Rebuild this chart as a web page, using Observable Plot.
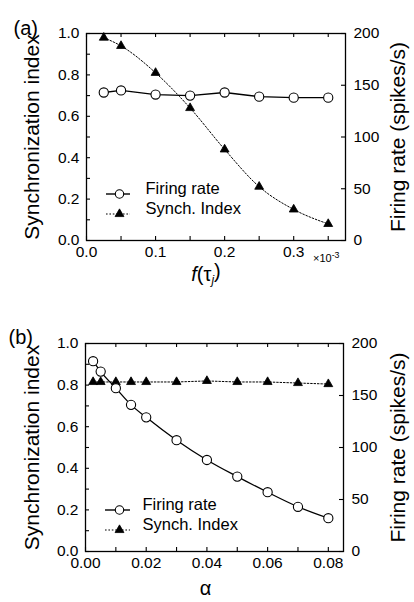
<!DOCTYPE html>
<html><head><meta charset="utf-8">
<script src="https://cdn.jsdelivr.net/npm/d3@7"></script>
<script src="https://cdn.jsdelivr.net/npm/@observablehq/plot@0.6"></script>
<style>body{margin:0;background:#fff;} svg{display:block}</style>
</head><body><div id="chart"></div>
<script>
// ---- Panel (a): f(tau_j) in units of 1e-3
const tauValues = [0.025, 0.05, 0.1, 0.15, 0.2, 0.25, 0.3, 0.35];
const rateA = [143, 145, 141, 140, 143, 139, 138, 138];          // spikes/s
const syncA = [0.98, 0.94, 0.81, 0.64, 0.44, 0.26, 0.15, 0.08];
// ---- Panel (b): alpha
const alphaValues = [0.0025, 0.005, 0.01, 0.015, 0.02, 0.03, 0.04, 0.05, 0.06, 0.07, 0.08];
const rateB = [183, 173, 157, 141, 129, 107, 88, 72, 57, 43, 32];
const syncB = [0.815, 0.815, 0.815, 0.815, 0.815, 0.815, 0.82, 0.815, 0.815, 0.81, 0.805];
// ---- ticks and labels
const leftTicks = [0, 0.2, 0.4, 0.6, 0.8, 1.0];
const rightTicks = [0, 50, 100, 150, 200];
const xTicksA = [0, 0.1, 0.2, 0.3];
const xTicksB = [0, 0.02, 0.04, 0.06, 0.08];
const legendLabels = ["Firing rate", "Synch. Index"];
const yLabelLeft = "Synchronization index";
const yLabelRight = "Firing rate (spikes/s)";
const panelTags = ["(a)", "(b)"];
const xLabels = ["f(τj)", "α"];
const xExponent = "×10-3";
const RATE_MAX = 200;

const FONT = "'Liberation Sans', Arial, Helvetica, sans-serif";

function makePanel(o) {
  const data = o.xValues.map((x, i) => ({x, rate: o.rate[i], sync: o.sync[i]}));
  const W = 414 - o.mLeft - o.mRight;
  const minorY = d3.range(0, 1.0001, 0.1);
  const marks = [
    // inward tick marks
    Plot.tickY(minorY, {y: d => d, insetRight: W - 4, stroke: "black", strokeWidth: 1.1}),
    Plot.tickY(rightTicks.map(v => v / RATE_MAX), {y: d => d, insetLeft: W - 4, stroke: "black", strokeWidth: 1.1}),
    Plot.tickX(o.xMinor, {x: d => d, insetTop: o.H - 4, stroke: "black", strokeWidth: 1.1}),
    Plot.tickX(o.xMinor, {x: d => d, insetBottom: o.H - 4, stroke: "black", strokeWidth: 1.1}),
    Plot.frame({stroke: "black", strokeWidth: 1.3}),
    // tick labels
    Plot.axisY({anchor: "left", ticks: leftTicks, tickSize: 0, tickPadding: 7, tickFormat: d3.format(".1f"), label: null, fontSize: 15.5}),
    Plot.axisY({anchor: "right", ticks: rightTicks.map(v => v / RATE_MAX), tickSize: 0, tickPadding: 8,
      tickFormat: v => String(Math.round(v * RATE_MAX)), label: null, fontSize: 15.5}),
    Plot.axisX({anchor: "bottom", ticks: o.xTicks, tickSize: 0, tickPadding: o.xPad, tickFormat: d3.format(o.xFmt), label: null, fontSize: 15.5}),
    // axis titles
    Plot.text([yLabelLeft], {text: d => d, frameAnchor: "left", rotate: -90, dx: o.lblL, lineAnchor: "bottom", textAnchor: "middle", fontSize: 21}),
    Plot.text([yLabelRight], {text: d => d, frameAnchor: "right", rotate: -90, dx: o.lblR, lineAnchor: "top", textAnchor: "middle", fontSize: 21}),
    Plot.text([o.xLabel], {text: d => d, frameAnchor: "bottom", dx: o.xLabelDx, dy: o.xLabelDy, fontSize: 20}),
    Plot.text([o.tag], {text: d => d, frameAnchor: "top-left", dx: o.tagDx, dy: o.tagDy, textAnchor: "start", fontSize: 20}),
    // data lines
    Plot.line(data, {x: "x", y: "sync", stroke: "black", strokeWidth: 1, strokeDasharray: "1.6,1.8", curve: o.syncCurve}),
    Plot.line(data, {x: "x", y: d => d.rate / RATE_MAX, stroke: "black", strokeWidth: 1.3, curve: o.rateCurve}),
    Plot.dot(data, {x: "x", y: "sync", symbol: "triangle", r: 3.3, fill: "black", stroke: "black", strokeWidth: 0.8}),
    Plot.dot(data, {x: "x", y: d => d.rate / RATE_MAX, symbol: "circle", r: 4.6, fill: "white", stroke: "black", strokeWidth: 1.1}),
    // legend (inside frame)
    Plot.ruleY([0], {y: d => d, dy: o.legDy[0], insetLeft: o.legLine[0], insetRight: W - o.legLine[1], stroke: "black", strokeWidth: 1.4}),
    Plot.ruleY([0], {y: d => d, dy: o.legDy[1], insetLeft: o.legLine[0], insetRight: W - o.legLine[1], stroke: "black", strokeWidth: 1.1, strokeDasharray: "1.6,1.8"}),
    Plot.dot([legendLabels[0]], {frameAnchor: "bottom-left", dx: o.legMark, dy: o.legDy[0], r: 4.2, fill: "white", stroke: "black", strokeWidth: 1.1}),
    Plot.dot([legendLabels[1]], {frameAnchor: "bottom-left", dx: o.legMark, dy: o.legDy[1], symbol: "triangle", r: 3.3, fill: "black", stroke: "black", strokeWidth: 0.8}),
    Plot.text([legendLabels[0]], {text: d => d, frameAnchor: "bottom-left", dx: o.legText, dy: o.legDy[0], textAnchor: "start", fontSize: 16.5}),
    Plot.text([legendLabels[1]], {text: d => d, frameAnchor: "bottom-left", dx: o.legText, dy: o.legDy[1], textAnchor: "start", fontSize: 16.5})
  ];
  if (o.exponent) {
    marks.push(Plot.text([o.exponent], {text: d => d, frameAnchor: "bottom-right", dx: -6, dy: 21, textAnchor: "end", fontSize: 11}));
  }
  return Plot.plot({
    width: 414,
    height: o.height,
    marginLeft: o.mLeft, marginRight: o.mRight, marginTop: o.mTop, marginBottom: o.mBottom,
    style: {fontFamily: FONT, fontSize: "16px", background: "white", color: "black"},
    x: {domain: o.xDomain},
    y: {domain: [0, 1]},
    marks
  });
}

const svgA = makePanel({
  xValues: tauValues, rate: rateA, sync: syncA,
  xDomain: [0, 0.375], xMinor: d3.range(0, 0.3751, 0.05), xTicks: xTicksA, xFmt: ".1f", xPad: 5,
  height: 301, mLeft: 86, mRight: 69, mTop: 33, mBottom: 61, H: 207,
  lblL: -48, lblR: 45, xLabel: xLabels[0], xLabelDx: -10, xLabelDy: 40,
  tag: panelTags[0], tagDx: -73, tagDy: -13,
  legDy: [-46.5, -26.5], legLine: [20, 44], legMark: 33, legText: 59,
  syncCurve: "monotone-x", rateCurve: "linear", exponent: xExponent
});
const svgB = makePanel({
  xValues: alphaValues, rate: rateB, sync: syncB,
  xDomain: [0, 0.085], xMinor: d3.range(0, 0.0851, 0.01), xTicks: xTicksB, xFmt: ".2f", xPad: 5,
  height: 301, mLeft: 85, mRight: 71, mTop: 42, mBottom: 51, H: 208,
  lblL: -47, lblR: 47, xLabel: xLabels[1], xLabelDx: -9, xLabelDy: 43,
  tag: panelTags[1], tagDx: -77, tagDy: -14,
  legDy: [-41.5, -21.5], legLine: [20, 45], legMark: 34, legText: 57,
  syncCurve: "linear", rateCurve: "monotone-x", exponent: null
});
document.getElementById("chart").append(svgA, svgB);

// rich text for the f(τ_j) label and the ×10^-3 exponent
for (const t of svgA.querySelectorAll("text")) {
  if (t.textContent === xLabels[0]) {
    t.innerHTML = '<tspan font-style="italic">f</tspan>(τ<tspan font-style="italic" font-size="0.6em" dy="0.3em">j</tspan><tspan dy="-0.3em">)</tspan>';
  } else if (t.textContent === xExponent) {
    t.innerHTML = '×10<tspan font-size="0.8em" dy="-0.45em">-3</tspan>';
  }
}
</script>
</body></html>
